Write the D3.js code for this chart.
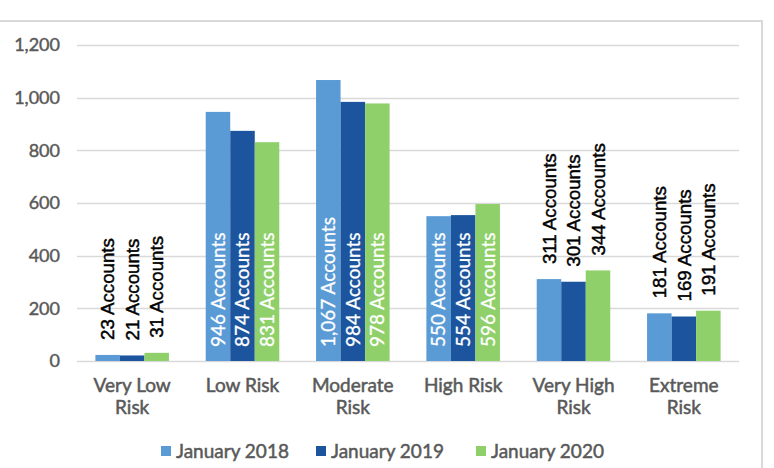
<!DOCTYPE html>
<html><head><meta charset="utf-8">
<script src="https://cdn.jsdelivr.net/npm/d3@7"></script>
<style>html,body{margin:0;padding:0;background:#fff;}svg{display:block;}</style>
</head><body>
<svg id="c" width="774" height="468"></svg>
<script>
const categories = ["Very Low Risk","Low Risk","Moderate Risk","High Risk","Very High Risk","Extreme Risk"];
const categoryLines = [["Very Low","Risk"],["Low Risk"],["Moderate","Risk"],["High Risk"],["Very High","Risk"],["Extreme","Risk"]];
const seriesNames = ["January 2018","January 2019","January 2020"];
const jan2018 = [23, 946, 1067, 550, 311, 181];
const jan2019 = [21, 874, 984, 554, 301, 169];
const jan2020 = [31, 831, 978, 596, 344, 191];
const labelInside = [false, true, true, true, false, false];
const yTicks = [0, 200, 400, 600, 800, 1000, 1200];
const colors = ["#5B9BD5", "#1C549E", "#8FD06A"];

const series = [jan2018, jan2019, jan2020];
const svg = d3.select("#c");
const fmt = d3.format(",");

// chart frame
svg.append("rect").attr("x", -10).attr("y", 21).attr("width", 772).attr("height", 500)
  .attr("fill", "none").attr("stroke", "#d9d9d9").attr("stroke-width", 2);

const y = d3.scaleLinear().domain([0, 1200]).range([361, 45]);
const x0 = d3.scaleBand().domain(categories).range([77, 739]).paddingInner(0).paddingOuter(0);
const x1 = d3.scaleBand().domain(seriesNames).range([0, x0.bandwidth()]).paddingInner(0).paddingOuter(0.75);

// gridlines
svg.append("g").selectAll("line").data(yTicks).join("line")
  .attr("x1", 77).attr("x2", 739)
  .attr("y1", d => Math.round(y(d)) + 0.5).attr("y2", d => Math.round(y(d)) + 0.5)
  .attr("stroke", "#d9d9d9").attr("stroke-width", 1.5);

// y tick labels
svg.append("g").selectAll("text").data(yTicks).join("text")
  .attr("x", 60).attr("y", d => y(d)).attr("dy", "0.35em")
  .attr("text-anchor", "end")
  .attr("font-family", "Lato").attr("font-size", 18).attr("fill", "#595959")
  .attr("stroke", "#595959").attr("stroke-width", 0.45)
  .text(d => fmt(d));

// bars
const flat = [];
categories.forEach((c, i) => series.forEach((s, j) => flat.push({c, i, j, v: s[i]})));
svg.append("g").selectAll("rect").data(flat).join("rect")
  .attr("x", d => x0(d.c) + x1(seriesNames[d.j]))
  .attr("width", x1.bandwidth())
  .attr("y", d => y(d.v))
  .attr("height", d => y(0) - y(d.v))
  .attr("fill", d => colors[d.j]);

// data labels
svg.append("g").selectAll("text").data(flat).join("text")
  .attr("transform", d => {
    const cx = x0(d.c) + x1(seriesNames[d.j]) + x1.bandwidth() / 2;
    const yy = labelInside[d.i] ? y(0) - 14 : y(d.v) - 15;
    return `translate(${cx},${yy}) rotate(-90)`;
  })
  .attr("dy", "0.36em")
  .attr("text-anchor", "start")
  .attr("font-family", d => labelInside[d.i] ? "Lato" : "Liberation Sans")
  .attr("font-size", d => labelInside[d.i] ? 19 : 18.7)
  .attr("fill", d => labelInside[d.i] ? "#ffffff" : "#000000")
  .attr("stroke", d => labelInside[d.i] ? "#ffffff" : "#000000")
  .attr("stroke-width", d => labelInside[d.i] ? 0.3 : 0.45)
  .text(d => fmt(d.v) + " Accounts");

// category labels
const cat = svg.append("g").selectAll("text").data(categories).join("text")
  .attr("x", d => x0(d) + x0.bandwidth() / 2)
  .attr("text-anchor", "middle")
  .attr("font-family", "Lato").attr("font-size", 19).attr("fill", "#595959")
  .attr("stroke", "#595959").attr("stroke-width", 0.5);
cat.each(function(d, i) {
  const t = d3.select(this);
  categoryLines[i].forEach((line, k) => {
    t.append("tspan").attr("x", x0(d) + x0.bandwidth() / 2).attr("y", 392 + k * 22).text(line);
  });
});

// legend
const legendX = [161, 316, 476];
const lg = svg.append("g").selectAll("g").data(seriesNames).join("g")
  .attr("transform", (d, i) => `translate(${legendX[i]},446)`);
lg.append("rect").attr("width", 10).attr("height", 10).attr("fill", (d, i) => colors[i]);
lg.append("text").attr("x", 15).attr("y", 5).attr("dy", "0.36em")
  .attr("font-family", "Lato").attr("font-size", 19).attr("fill", "#595959")
  .attr("stroke", "#595959").attr("stroke-width", 0.5)
  .text(d => d);
</script>
</body></html>
